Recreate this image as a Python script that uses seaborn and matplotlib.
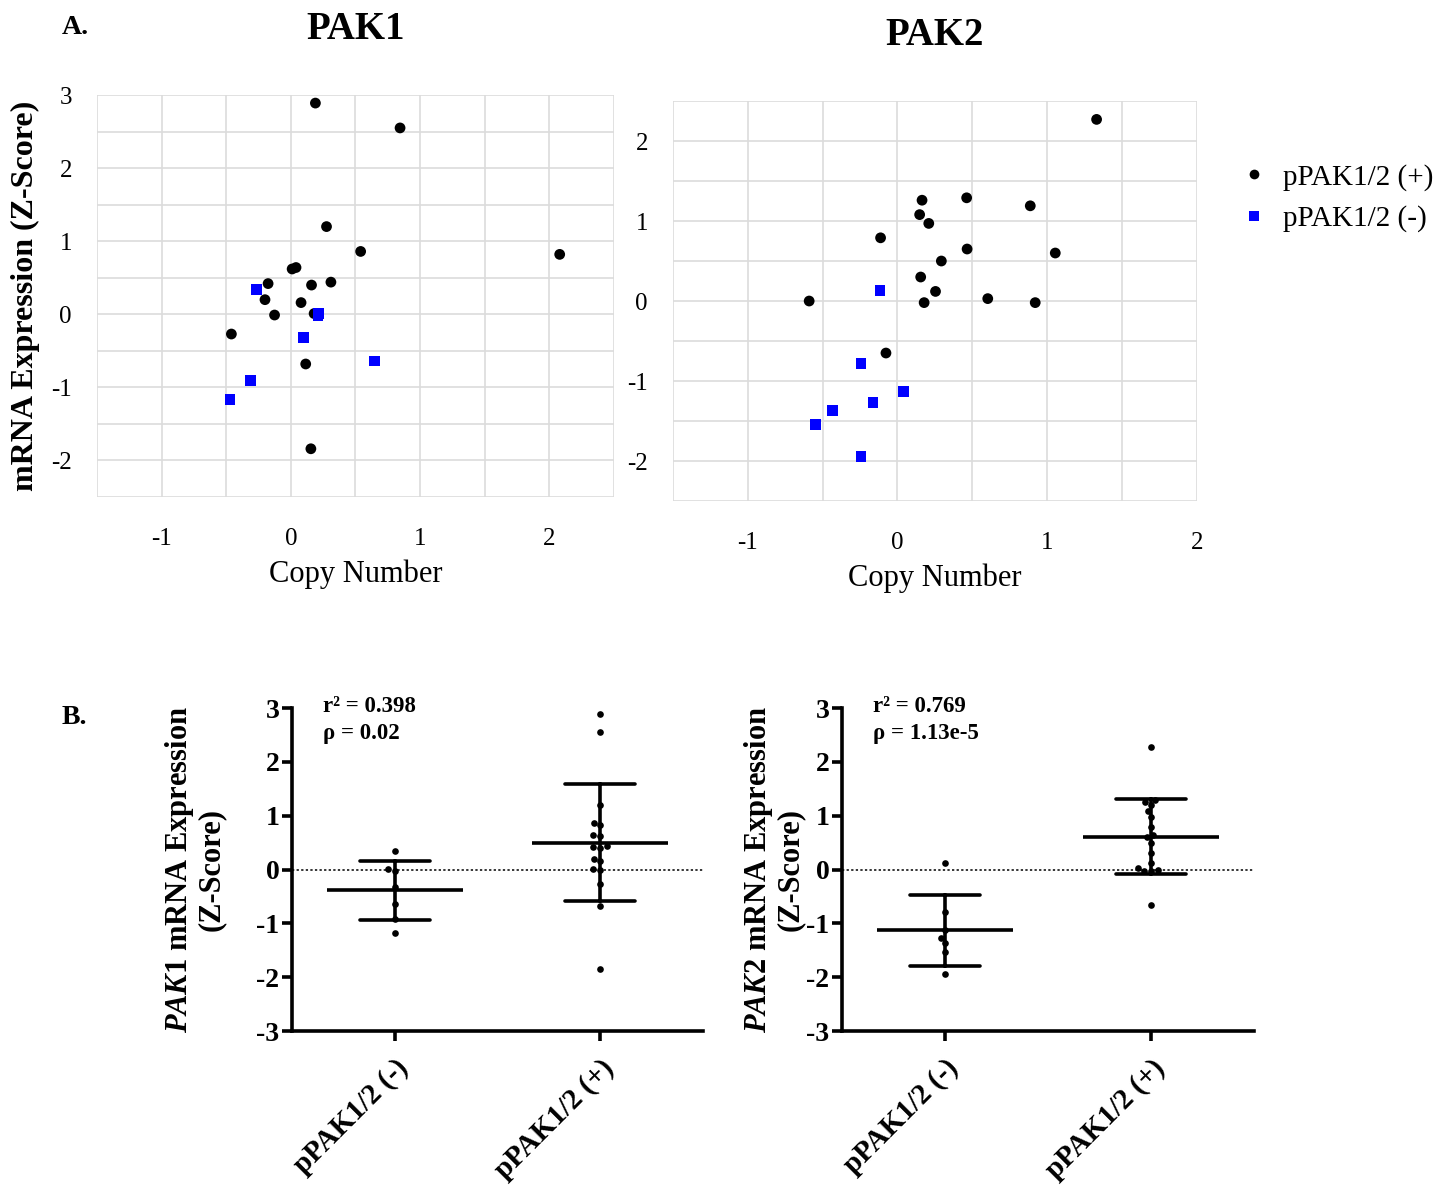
import numpy as np
import pandas as pd
import matplotlib
matplotlib.use("Agg")
import matplotlib.pyplot as plt
from matplotlib.ticker import FixedLocator, FuncFormatter
import seaborn as sns

# ---------------- data ----------------
groups = ["pPAK1/2 (+)", "pPAK1/2 (-)"]
cat_order = ["pPAK1/2 (-)", "pPAK1/2 (+)"]

pak1_pos_cn = [0.19, 0.845, 0.276, 0.54, 2.08, 0.01, 0.04, -0.176, 0.16, 0.31,
               -0.20, 0.079, -0.126, 0.18, -0.46, 0.115, 0.155]
pak1_pos_z = [2.89, 2.55, 1.20, 0.86, 0.82, 0.62, 0.64, 0.42, 0.40, 0.44,
              0.20, 0.16, -0.01, 0.01, -0.27, -0.68, -1.84]
pak1_neg_cn = [-0.265, 0.215, 0.21, 0.10, 0.65, -0.31, -0.47]
pak1_neg_z = [0.34, 0.01, -0.02, -0.315, -0.64, -0.91, -1.17]

pak2_pos_cn = [1.33, 0.164, 0.462, 0.887, 0.148, 0.209, -0.113, 0.465, 1.054, 0.293,
               0.155, 0.254, -0.59, 0.178, 0.603, 0.92, -0.077]
pak2_pos_z = [2.27, 1.26, 1.29, 1.19, 1.08, 0.97, 0.79, 0.65, 0.60, 0.50,
              0.30, 0.12, 0.0, -0.02, 0.03, -0.02, -0.65]
pak2_neg_cn = [-0.117, -0.244, 0.042, -0.164, -0.432, -0.549, -0.244]
pak2_neg_z = [0.13, -0.78, -1.13, -1.27, -1.365, -1.54, -1.94]

stats_text = [["r\u00b2 = 0.398", "\u03c1 = 0.02"],
              ["r\u00b2 = 0.769", "\u03c1 = 1.13e-5"]]


def make_df(pos_cn, pos_z, neg_cn, neg_z):
    return pd.DataFrame({
        "cn": list(pos_cn) + list(neg_cn),
        "z": list(pos_z) + list(neg_z),
        "group": [groups[0]] * len(pos_cn) + [groups[1]] * len(neg_cn),
    })


df1 = make_df(pak1_pos_cn, pak1_pos_z, pak1_neg_cn, pak1_neg_z)
df2 = make_df(pak2_pos_cn, pak2_pos_z, pak2_neg_cn, pak2_neg_z)

# ---------------- style ----------------
sns.set_style("white")
plt.rcParams["font.family"] = ["Liberation Serif", "DejaVu Serif"]
plt.rcParams["axes.unicode_minus"] = False
plt.rcParams["mathtext.fontset"] = "custom"
plt.rcParams["mathtext.it"] = "Liberation Serif:italic:bold"
plt.rcParams["mathtext.rm"] = "Liberation Serif:bold"
plt.rcParams["mathtext.bf"] = "Liberation Serif:bold"
for key in ["text.color", "axes.labelcolor", "xtick.color", "ytick.color"]:
    plt.rcParams[key] = "black"

palette = {groups[0]: "#000000", groups[1]: "#0000ff"}
markers = {groups[0]: "o", groups[1]: "s"}

fig = plt.figure(figsize=(14.45, 11.91), dpi=100)
ax1 = fig.add_axes([0.0671, 0.5827, 0.3578, 0.3375])
ax2 = fig.add_axes([0.4657, 0.5793, 0.3626, 0.3359])
ax3 = fig.add_axes([0.2021, 0.1343, 0.2844, 0.2712])
ax4 = fig.add_axes([0.5827, 0.1343, 0.2851, 0.2712])

int_fmt = FuncFormatter(lambda v, p: f"{int(round(v))}" if abs(v - round(v)) < 1e-6 else "")


def style_scatter(ax, xlim, ylim, title):
    ax.set_xlim(*xlim)
    ax.set_ylim(*ylim)
    ax.xaxis.set_major_locator(FixedLocator(np.arange(xlim[0], xlim[1] + 0.01, 0.5)))
    ax.yaxis.set_major_locator(FixedLocator(np.arange(ylim[0], ylim[1] + 0.01, 0.5)))
    ax.xaxis.set_major_formatter(int_fmt)
    ax.yaxis.set_major_formatter(int_fmt)
    ax.grid(True, color="#dcdcdc", lw=1.2)
    ax.set_axisbelow(True)
    for s in ax.spines.values():
        s.set_visible(False)
    ax.tick_params(axis="both", length=8, width=1.2, color="#dcdcdc",
                   labelcolor="black", labelsize=18, pad=10)
    ax.tick_params(axis="x", pad=14)
    ax.set_xlabel("Copy Number", fontsize=22, labelpad=7)
    ax.set_title(title, fontsize=28, fontweight="bold", pad=40)


for ax, df, show_leg in [(ax1, df1, False), (ax2, df2, True)]:
    sns.scatterplot(data=df, x="cn", y="z", hue="group", style="group",
                    hue_order=groups, style_order=groups, palette=palette,
                    markers=markers, s=60, edgecolor="none", linewidth=0,
                    ax=ax, legend=show_leg, zorder=3)

style_scatter(ax1, (-1.5, 2.5), (-2.5, 3.0), "PAK1")
style_scatter(ax2, (-1.5, 2.0), (-2.5, 2.5), "PAK2")
ax1.set_ylabel("mRNA Expression (Z-Score)", fontsize=23, fontweight="bold", labelpad=8)
ax2.set_ylabel("")

handles, labels = ax2.get_legend_handles_labels()
ax2.get_legend().remove()
for h in handles:
    h.set_markersize(7)
fig.legend(handles, labels, loc="upper left", bbox_to_anchor=(1238 / 1445, 1 - 164 / 1191),
           frameon=False, fontsize=21, handletextpad=0.45, handlelength=1.1,
           labelspacing=0.5, borderaxespad=0, borderpad=0)

# ---------------- panel B ----------------
ylabels = [r"$\mathit{PAK1}$ mRNA Expression" + "\n(Z-Score)",
           r"$\mathit{PAK2}$ mRNA Expression" + "\n(Z-Score)"]
ylabel_pads = [22, 1]

for ax, df, ylab, st, lp in [(ax3, df1, ylabels[0], stats_text[0], ylabel_pads[0]),
                             (ax4, df2, ylabels[1], stats_text[1], ylabel_pads[1])]:
    ax.axhline(0, ls=(0, (1.5, 1.5)), color="black", lw=1.1, zorder=0)
    sns.swarmplot(data=df, x="group", y="z", order=cat_order, color="black",
                  size=4.8, ax=ax, zorder=3)
    sns.pointplot(data=df, x="group", y="z", order=cat_order, errorbar="sd",
                  capsize=0.34, color="black", marker="_", linestyle="none",
                  markersize=98, markeredgewidth=2.6,
                  err_kws={"linewidth": 2.6}, ax=ax, zorder=4)
    ax.set_xlim(-0.5, 1.5)
    ax.set_ylim(-3, 3)
    ax.set_yticks(range(-3, 4))
    ax.yaxis.set_major_formatter(FuncFormatter(lambda v, p: f"{int(v)}"))
    for side in ["top", "right"]:
        ax.spines[side].set_visible(False)
    for side in ["left", "bottom"]:
        ax.spines[side].set_linewidth(2.6)
        ax.spines[side].set_color("black")
    ax.tick_params(axis="both", direction="out", length=7, width=2.6, color="black",
                   labelcolor="black", left=True, bottom=True)
    ax.tick_params(axis="y", labelsize=20, pad=2)
    ax.tick_params(axis="x", labelsize=21, pad=10)
    for lab in ax.get_yticklabels():
        lab.set_fontweight("bold")
    for lab in ax.get_xticklabels():
        lab.set_fontweight("bold")
        lab.set_rotation(45)
        lab.set_ha("right")
        lab.set_rotation_mode("anchor")
    ax.set_xlabel("")
    ax.set_ylabel(ylab, fontsize=22, fontweight="bold", labelpad=lp, linespacing=1.05)
    ax.text(-0.35, 3.03, st[0], fontsize=16.5, fontweight="bold", va="center", ha="left")
    ax.text(-0.35, 2.52, st[1], fontsize=16.5, fontweight="bold", va="center", ha="left")

fig.text(62 / 1445, 1 - 28 / 1191, "A.", fontsize=20, fontweight="bold", va="center")
fig.text(62 / 1445, 1 - 718 / 1191, "B.", fontsize=20, fontweight="bold", va="center")

fig.savefig("out.png", dpi=100)
